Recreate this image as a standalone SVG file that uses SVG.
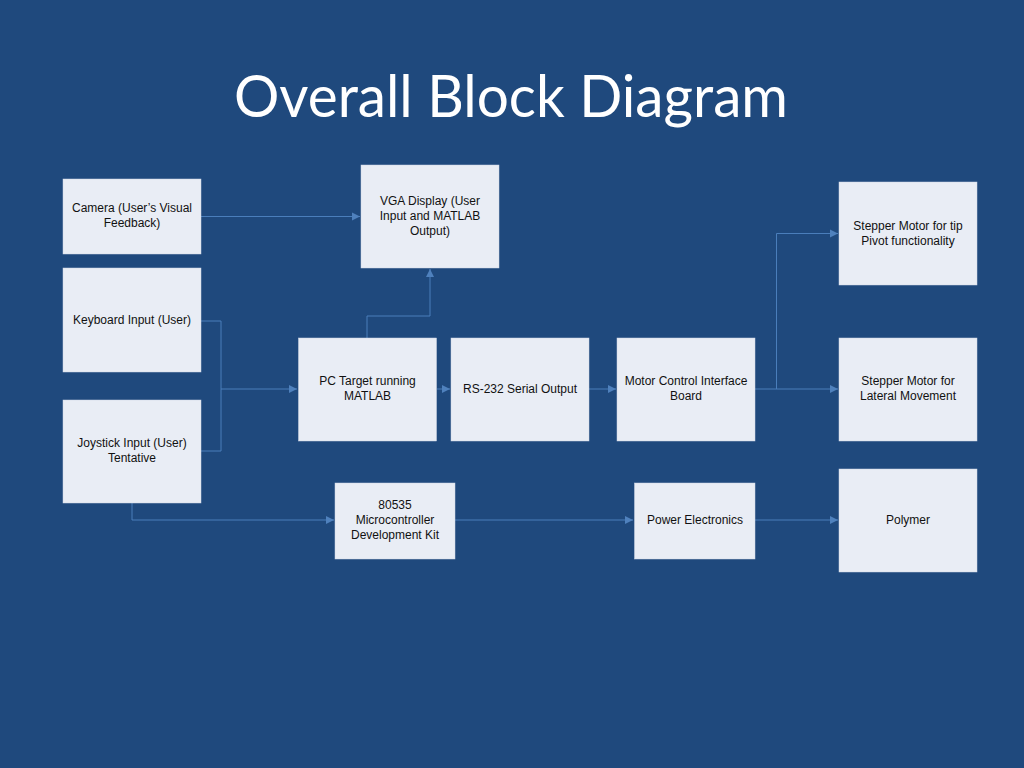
<svg xmlns="http://www.w3.org/2000/svg" width="1024" height="768" viewBox="0 0 1024 768">
<defs>
<style>
.box{fill:#E9EDF5;stroke:#D0D8E6;stroke-width:0.5}
.lbl{font-family:"Liberation Sans",Arial,sans-serif;font-size:12px;fill:#111;text-anchor:middle}
.ln{fill:none;stroke:#4A7EBB;stroke-width:1}
.title{font-family:Lato,"Open Sans",sans-serif;font-size:58px;fill:#FFFFFF;text-anchor:middle}
</style>
<marker id="arr" markerWidth="10" markerHeight="10" refX="9" refY="5" orient="auto" markerUnits="userSpaceOnUse">
<path d="M1,1 L9,5 L1,9 Z" fill="#4F81BD"/>
</marker>
</defs>
<rect x="0" y="0" width="1024" height="768" fill="#1F497D"/>
<text class="title" x="511" y="117" textLength="554" lengthAdjust="spacingAndGlyphs">Overall Block Diagram</text>

<g id="connectors">
<path class="ln" d="M201,216.5 H360" marker-end="url(#arr)"/>
<path class="ln" d="M201,321 H221 V451 H201"/>
<path class="ln" d="M221,389 H297" marker-end="url(#arr)"/>
<path class="ln" d="M367,338 V316 H430 V269" marker-end="url(#arr)"/>
<path class="ln" d="M437,389 H450" marker-end="url(#arr)"/>
<path class="ln" d="M589,389 H616" marker-end="url(#arr)"/>
<path class="ln" d="M755,389 H838" marker-end="url(#arr)"/>
<path class="ln" d="M776.5,389 V233.5 H838" marker-end="url(#arr)"/>
<path class="ln" d="M132,503 V520 H334" marker-end="url(#arr)"/>
<path class="ln" d="M455,520 H633" marker-end="url(#arr)"/>
<path class="ln" d="M755,520 H838" marker-end="url(#arr)"/>
</g>

<g id="camera"><rect class="box" x="63" y="179" width="138" height="75"/>
<text class="lbl" x="132" y="212">Camera (User’s Visual</text><text class="lbl" x="132" y="227">Feedback)</text></g>
<g id="keyboard"><rect class="box" x="63" y="268" width="138" height="104"/>
<text class="lbl" x="132" y="324">Keyboard Input (User)</text></g>
<g id="joystick"><rect class="box" x="63" y="400" width="138" height="103"/>
<text class="lbl" x="132" y="447">Joystick Input (User)</text><text class="lbl" x="132" y="462">Tentative</text></g>
<g id="vga"><rect class="box" x="361" y="165" width="138" height="103"/>
<text class="lbl" x="430" y="205">VGA Display (User</text><text class="lbl" x="430" y="220">Input and MATLAB</text><text class="lbl" x="430" y="235">Output)</text></g>
<g id="pc"><rect class="box" x="298.5" y="338" width="138" height="103"/>
<text class="lbl" x="367.5" y="385">PC Target running</text><text class="lbl" x="367.5" y="400">MATLAB</text></g>
<g id="rs232"><rect class="box" x="451" y="338" width="138" height="103"/>
<text class="lbl" x="520" y="393">RS-232 Serial Output</text></g>
<g id="motorctl"><rect class="box" x="617" y="338" width="138" height="103"/>
<text class="lbl" x="686" y="385">Motor Control Interface</text><text class="lbl" x="686" y="400">Board</text></g>
<g id="steppertip"><rect class="box" x="839" y="182" width="138" height="103"/>
<text class="lbl" x="908" y="230">Stepper Motor for tip</text><text class="lbl" x="908" y="245">Pivot functionality</text></g>
<g id="stepperlat"><rect class="box" x="839" y="338" width="138" height="103"/>
<text class="lbl" x="908" y="385">Stepper Motor for</text><text class="lbl" x="908" y="400">Lateral Movement</text></g>
<g id="micro"><rect class="box" x="335" y="483" width="120" height="76"/>
<text class="lbl" x="395" y="509">80535</text><text class="lbl" x="395" y="524">Microcontroller</text><text class="lbl" x="395" y="539">Development Kit</text></g>
<g id="power"><rect class="box" x="634.5" y="483" width="120.5" height="76"/>
<text class="lbl" x="695" y="524">Power Electronics</text></g>
<g id="polymer"><rect class="box" x="839" y="469" width="138" height="103"/>
<text class="lbl" x="908" y="524">Polymer</text></g>
</svg>
